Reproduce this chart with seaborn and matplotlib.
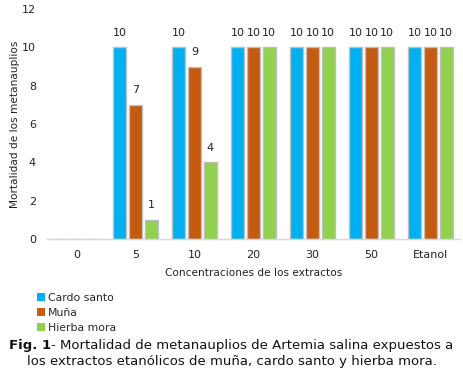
import matplotlib
matplotlib.use("Agg")
import matplotlib.pyplot as plt
import seaborn as sns
import pandas as pd
from matplotlib.patches import Patch

categories = ["0", "5", "10", "20", "30", "50", "Etanol"]
series_names = ["Cardo santo", "Muña", "Hierba mora"]
cardo_santo = [0, 10, 10, 10, 10, 10, 10]
muna = [0, 7, 9, 10, 10, 10, 10]
hierba_mora = [0, 1, 4, 10, 10, 10, 10]
colors = ["#00B0F0", "#C55A11", "#92D050"]

rows = []
for name, vals in zip(series_names, [cardo_santo, muna, hierba_mora]):
    for c, v in zip(categories, vals):
        rows.append({"Concentración": c, "Extracto": name, "Mortalidad": v})
df = pd.DataFrame(rows)

sns.set_theme(style="white")
plt.rcParams["font.family"] = ["DejaVu Sans"]

fig = plt.figure(figsize=(4.63, 3.75), dpi=100)
ax = fig.add_axes([47 / 463, 1 - 239 / 375, (460 - 47) / 463, (239 - 9) / 375])

sns.barplot(data=df, x="Concentración", y="Mortalidad", hue="Extracto",
            order=categories, hue_order=series_names, palette=colors,
            width=0.8, gap=0.18, edgecolor="#BFBFBF", linewidth=1.0,
            saturation=1, errorbar=None, legend=False, ax=ax)

for cont in ax.containers:
    labels = [("%d" % b.get_height()) if b.get_height() > 0 else "" for b in cont]
    ax.bar_label(cont, labels=labels, padding=7, fontsize=8, color="#222222")

ax.set_xlim(-0.5, 6.5)
ax.set_ylim(0, 12)
ax.set_yticks(range(0, 13, 2))
ax.tick_params(axis="both", length=0, labelsize=8, colors="#222222")
ax.tick_params(axis="y", pad=8)
ax.tick_params(axis="x", pad=8)
for s in ["top", "right", "left"]:
    ax.spines[s].set_visible(False)
ax.spines["bottom"].set_color("#D9D9D9")
ax.spines["bottom"].set_linewidth(1.0)
ax.set_ylabel("Mortalidad de los metanauplios", fontsize=7.6, color="#222222", labelpad=1)
ax.set_xlabel("Concentraciones de los extractos", fontsize=7.6, color="#222222", labelpad=6)
ax.grid(False)

handles = [Patch(facecolor=c, edgecolor="none") for c in colors]
fig.legend(handles, series_names, loc="upper left", bbox_to_anchor=(37 / 463, 1 - 293 / 375),
           frameon=False, fontsize=7.8, handlelength=0.75, handleheight=0.75,
           handletextpad=0.25, labelspacing=0.45, borderaxespad=0, borderpad=0)

y1 = 1 - 345 / 375
t1 = fig.text(9 / 463, y1, "Fig. 1", fontsize=9.5, fontweight="bold", va="center", ha="left",
              color="#111111")
fig.canvas.draw()
r = fig.canvas.get_renderer()
bb = t1.get_window_extent(r)
fig.text(bb.x1 / fig.bbox.width, y1, "- Mortalidad de metanauplios de Artemia salina expuestos a",
         fontsize=9.5, va="center", ha="left", color="#111111")
fig.text(232 / 463, 1 - 362 / 375,
         "los extractos etanólicos de muña, cardo santo y hierba mora.",
         fontsize=9.5, va="center", ha="center", color="#111111")

fig.savefig("out.png", dpi=100)
